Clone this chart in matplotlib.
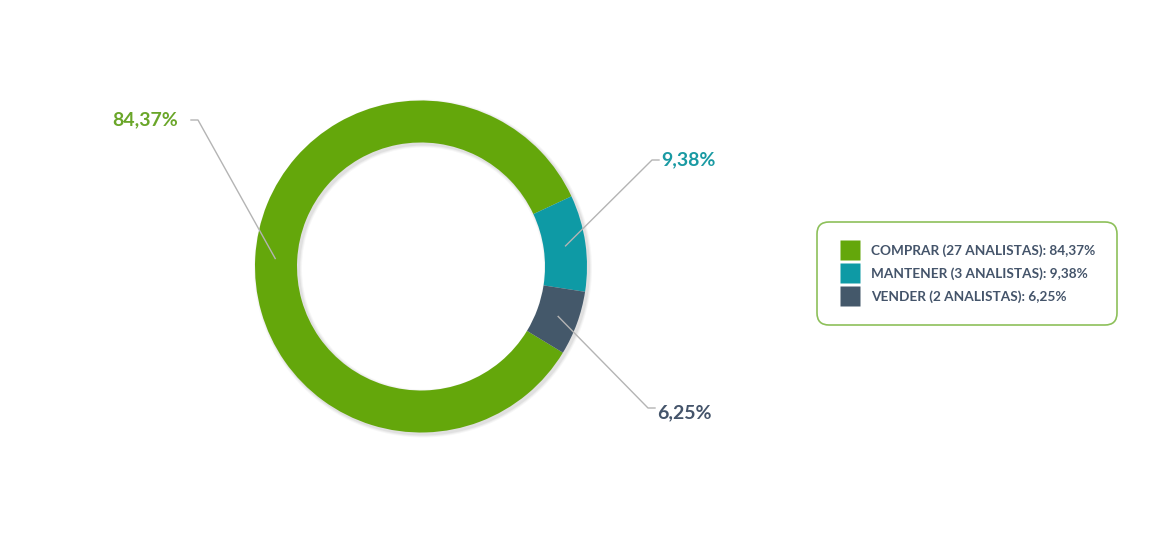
import matplotlib.pyplot as plt
import numpy as np
from matplotlib.lines import Line2D
from matplotlib.patches import Wedge

plt.rcParams['font.family'] = ['Lato', 'DejaVu Sans']

# datos
categorias = ['COMPRAR', 'MANTENER', 'VENDER']
analistas = [27, 3, 2]
porcentajes = [84.37, 9.38, 6.25]
etiquetas = ['84,37%', '9,38%', '6,25%']
colores = ['#64A70B', '#0E9AA5', '#44586A']
colores_texto = ['#6AA629', '#1A9AA3', '#44546A']

W, H = 1163, 538
fig = plt.figure(figsize=(W / 100, H / 100), dpi=100)
ax = fig.add_axes([0, 0, 1, 1])

cx, cy, R, ancho = 421, H - 266.5, 166, 42

# sombra suave del anillo
for i, a in enumerate([0.05, 0.04, 0.03]):
    ax.add_patch(Wedge((cx + 2, cy - 2), R + 1 + i, 0, 360, width=ancho + 2 + 2 * i,
                       facecolor='#000000', alpha=a, edgecolor='none', zorder=0))

wedges, _ = ax.pie(porcentajes, colors=colores, radius=R, center=(cx, cy),
                   startangle=25 + 360 * porcentajes[0] / 100, counterclock=False,
                   wedgeprops=dict(width=ancho, edgecolor='none'))
for w in wedges:
    w.set_zorder(2)

# etiquetas con lineas guia (posicion del texto, codo de la linea)
pos_texto = [(178, 120, 'right'), (661, 160, 'left'), (657, 413, 'left')]
codos = [((191, 120), (198, 120)), ((659, 160), (652, 160)), ((655, 408), (648, 408))]

for w, etq, col, (tx, ty, ha), (p0, p1) in zip(wedges, etiquetas, colores_texto, pos_texto, codos):
    ang = np.deg2rad((w.theta1 + w.theta2) / 2)
    axx = cx + 146 * np.cos(ang)
    axy = cy + 146 * np.sin(ang)
    ax.plot([p0[0], p1[0], axx], [H - p0[1], H - p1[1], axy], color='#B4B4B4', lw=1, zorder=3)
    ax.text(tx, H - ty, etq, ha=ha, va='center', color=col, fontsize=14, fontweight='bold')

ax.set_xlim(0, W)
ax.set_ylim(0, H)
ax.set_aspect('equal')
ax.axis('off')

# leyenda
handles = [Line2D([0], [0], marker='s', ms=14.6, mfc=c, mec='none', ls='none') for c in colores]
textos = [f'{c} ({n} ANALISTAS): {e}' for c, n, e in zip(categorias, analistas, etiquetas)]
leg = ax.legend(handles, textos, loc='upper left', bbox_to_anchor=(817, H - 222),
                bbox_transform=ax.transData, frameon=True, fancybox=True,
                prop={'size': 9.8, 'weight': 'bold'}, handlelength=1.5,
                handletextpad=0.8, labelspacing=0.75, borderpad=1.65, borderaxespad=0,
                edgecolor='#8DC05A', labelcolor='#44546A', framealpha=1)
leg.get_frame().set_boxstyle('round,pad=0,rounding_size=0.9')
leg.get_frame().set_linewidth(1.2)

fig.savefig('out.png', dpi=100, facecolor='white')
